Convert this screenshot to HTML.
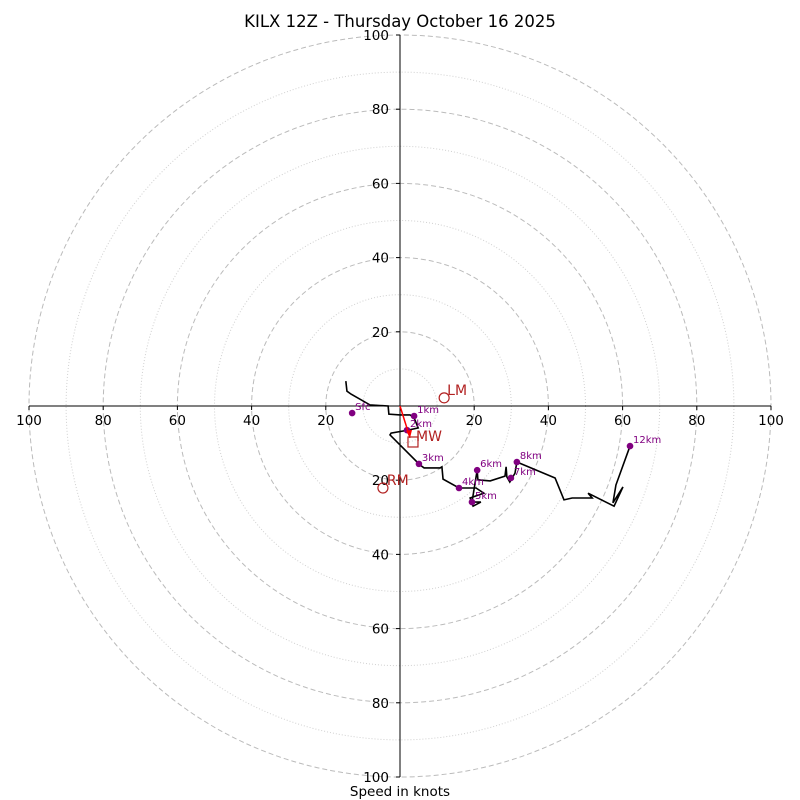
<!DOCTYPE html>
<html><head><meta charset="utf-8"><style>
html,body{margin:0;padding:0;background:#fff;}
svg{display:block;font-family:"DejaVu Sans","Liberation Sans",sans-serif;}
</style></head><body>
<svg id="chart" width="800" height="800" viewBox="0 0 800 800">
<rect width="800" height="800" fill="#fff"/>
<text x="400" y="27" text-anchor="middle" font-size="16.5">KILX 12Z - Thursday October 16 2025</text>
<g id="rings"></g>
<g id="axes"></g>
<g id="trace"></g>
<g id="marks"></g>
<text x="400" y="796" text-anchor="middle" font-size="13.5">Speed in knots</text>
</svg>
<script>
// wind trace (knots)
const traceU = [-14.6,-14.3,-13.2,-8.1,-3.2,-3.0,0,2.7,3.8,4.9,2.2,-2.4,-2.7,5.4,6.5,10.8,11.3,11.6,15.9,20.5,22.6,18.9,19.7,21.8,19.4,20.8,21.0,24.3,28.3,28.6,28.8,29.6,31.0,31.5,41.8,44.2,46.4,51.8,50.7,57.7,60.1,57.4,58.2,62.0];
const traceV = [6.7,4.0,3.2,0.3,0,-2.2,-2.4,-2.4,-3.2,-5.9,-6.5,-7.3,-7.8,-15.9,-16.7,-16.7,-16.4,-19.7,-22.1,-22.1,-23.5,-24.8,-27.0,-25.9,-25.9,-17.3,-19.9,-20.2,-18.9,-16.4,-19.1,-20.5,-18.1,-15.1,-19.4,-25.3,-24.8,-24.8,-23.5,-27.0,-21.8,-26.1,-21.3,-10.8];
// height markers
const heightLabels = ["Sfc","1km","2km","3km","4km","5km","6km","7km","8km","12km"];
const heightU = [-12.9,3.8,1.9,5.1,15.9,19.4,20.8,29.9,31.5,62.0];
const heightV = [-1.9,-2.7,-6.5,-15.6,-22.1,-25.9,-17.3,-19.4,-15.1,-10.8];
// storm motion
const lmUV = [11.9,2.2];
const rmUV = [-4.6,-22.1];
const mwUV = [3.5,-9.7];
const shearArrow = [2.7,-8.6];
const ringValues = [10,20,30,40,50,60,70,80,90,100];
const tickValues = [20,40,60,80,100];

const cx=400, cy=406, k=3.71;
const X=u=>cx+u*k, Y=v=>cy-v*k;
const NS="http://www.w3.org/2000/svg";
function mk(tag,parent,attrs){const e=document.createElementNS(NS,tag);for(const a in attrs)e.setAttribute(a,attrs[a]);parent.appendChild(e);return e;}

const rings=document.getElementById('rings');
ringValues.forEach(r=>{
  const c=mk('circle',rings,{cx:cx,cy:cy,r:r*k,fill:'none',stroke:r%20===0?'#bbbbbb':'#d0d0d0','stroke-width':1,'stroke-dasharray':r%20===0?'5,3':'1,2'});
  
  
});

const axes=document.getElementById('axes');
let l=mk('line',axes,{x1:X(-100),y1:cy,x2:X(100),y2:cy,stroke:'#000','stroke-width':1});


l=mk('line',axes,{x1:cx,y1:Y(100),x2:cx,y2:Y(-100),stroke:'#000','stroke-width':1});


tickValues.forEach(t=>{
  [-1,1].forEach(s=>{
    const tx=mk('text',axes,{x:X(s*t),y:cy+19,'text-anchor':'middle','font-size':13.5});
    tx.textContent=t;
    
    
    mk('line',axes,{x1:X(s*t),y1:cy,x2:X(s*t),y2:cy+4,stroke:'#000'});
    const ty=mk('text',axes,{x:cx-11,y:Y(s*t)+5,'text-anchor':'end','font-size':13.5});
    ty.textContent=t;
    
    
    mk('line',axes,{x1:cx-4,y1:Y(s*t),x2:cx,y2:Y(s*t),stroke:'#000'});
  });
});

const trace=document.getElementById('trace');
const pl=mk('polyline',trace,{points:traceU.map((u,i)=>X(u)+','+Y(traceV[i])).join(' '),fill:'none',stroke:'#000','stroke-width':1.6,'stroke-linejoin':'miter'});



const marks=document.getElementById('marks');
heightLabels.forEach((h,i)=>{
  const c=mk('circle',marks,{cx:X(heightU[i]),cy:Y(heightV[i]),r:3.3,fill:'#800080'});
  
  
  const t=mk('text',marks,{x:X(heightU[i])+3,y:Y(heightV[i])-3,'font-size':10,fill:'#800080'});
  t.textContent=h;
  
  
});
const red='#b22222';
let a=mk('line',marks,{x1:cx,y1:cy,x2:X(shearArrow[0]),y2:Y(shearArrow[1]),stroke:'#ff0000','stroke-width':1.5});


const ax=X(shearArrow[0]),ay=Y(shearArrow[1]);
a=mk('polygon',marks,{points:`${ax},${ay} ${ax-4},${ay-7} ${ax+2},${ay-8}`,fill:'#ff0000'});


let m=mk('circle',marks,{cx:X(lmUV[0]),cy:Y(lmUV[1]),r:5,fill:'none',stroke:red,'stroke-width':1.2});


m=mk('text',marks,{x:X(lmUV[0])+3,y:Y(lmUV[1])-3,'font-size':14,fill:red});m.textContent='LM';


m=mk('circle',marks,{cx:X(rmUV[0]),cy:Y(rmUV[1]),r:5,fill:'none',stroke:red,'stroke-width':1.2});


m=mk('text',marks,{x:X(rmUV[0])+4,y:Y(rmUV[1])-3,'font-size':14,fill:red});m.textContent='RM';


m=mk('rect',marks,{x:X(mwUV[0])-5,y:Y(mwUV[1])-5,width:10,height:10,fill:'none',stroke:red,'stroke-width':1.2});


m=mk('text',marks,{x:X(mwUV[0])+3,y:Y(mwUV[1])-1,'font-size':14,fill:red});m.textContent='MW';


</script>
</body></html>
